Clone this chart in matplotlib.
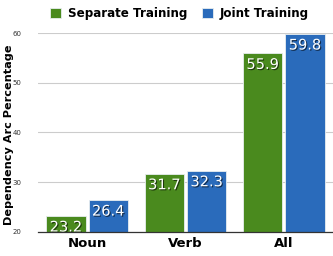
import matplotlib.pyplot as plt
import matplotlib.patheffects as pe
import numpy as np

categories = ["Noun", "Verb", "All"]
separate = [23.2, 31.7, 55.9]
joint = [26.4, 32.3, 59.8]
series_names = ["Separate Training", "Joint Training"]
y_ticks = [20, 30, 40, 50, 60]

green = "#4a8a1e"
blue = "#2a6bbb"

fig = plt.figure(figsize=(3.33, 2.56), dpi=100)
ax = fig.add_axes([0.114, 0.094, 0.886, 0.777])

x = np.arange(len(categories))
width = 0.40
offset = 0.215

shadow = [pe.withSimplePatchShadow(offset=(0.8, -0.8), shadow_rgbFace="black", alpha=0.6)]

for values, color, shift, name in [
    (separate, green, -offset, series_names[0]),
    (joint, blue, offset, series_names[1]),
]:
    bars = ax.bar(x + shift, np.array(values) - 20, width, bottom=20,
                  color=color, edgecolor="#e8eef0", linewidth=0.6,
                  label=name, zorder=3)
    for bar, value in zip(bars, values):
        ax.text(bar.get_x() + bar.get_width() / 2, value - 0.7, f"{value}",
                ha="center", va="top", color="white", fontsize=10.5,
                path_effects=shadow, zorder=4)

ax.set_xlim(-0.5, 2.5)
ax.set_ylim(20, 60)
ax.set_yticks(y_ticks)
ax.set_yticklabels([str(t) for t in y_ticks], fontsize=5, color="#333333")
ax.set_xticks(x)
ax.set_xticklabels(categories, fontsize=9.5, fontweight="bold")
ax.tick_params(axis="both", length=0)
ax.tick_params(axis="y", pad=12)
ax.tick_params(axis="x", pad=4)

ax.grid(axis="y", color="#cccccc", linewidth=0.8, zorder=0)
for side in ["top", "right", "left"]:
    ax.spines[side].set_visible(False)
ax.spines["bottom"].set_color("#333333")
ax.spines["bottom"].set_linewidth(0.9)
ax.spines["bottom"].set_zorder(5)

ax.set_ylabel("Dependency Arc Percentage", fontsize=8.1, fontweight="bold")
ax.yaxis.set_label_coords(-0.082, 0.49)

fig.legend(loc="upper center", bbox_to_anchor=(0.54, 1.015), ncol=2, frameon=False,
           prop={"size": 8.6, "weight": "bold"}, handlelength=0.9, handleheight=0.9,
           handletextpad=0.6, columnspacing=1.2)

fig.savefig("out.png", dpi=100)
